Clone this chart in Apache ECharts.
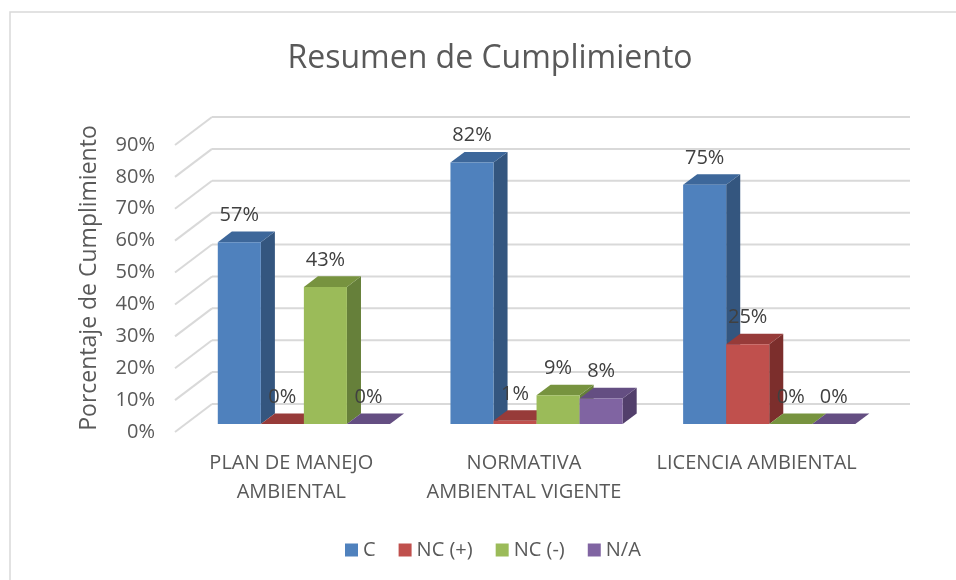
<!DOCTYPE html>
<html>
<head>
<meta charset="utf-8">
<script src="https://cdn.jsdelivr.net/npm/echarts@6/dist/echarts.min.js"></script>
<style>
html,body{margin:0;padding:0;background:#fff;}
#main{width:956px;height:580px;}
</style>
</head>
<body>
<div id="main"></div>
<script>
const categories = ['PLAN DE MANEJO\nAMBIENTAL', 'NORMATIVA\nAMBIENTAL VIGENTE', 'LICENCIA AMBIENTAL'];
const seriesNames = ['C', 'NC (+)', 'NC (-)', 'N/A'];
const valuesC = [0.57, 0.82, 0.75];
const valuesNCplus = [0.00, 0.01, 0.25];
const valuesNCminus = [0.43, 0.09, 0.00];
const valuesNA = [0.00, 0.08, 0.00];
const yTicks = [0, 0.1, 0.2, 0.3, 0.4, 0.5, 0.6, 0.7, 0.8, 0.9];

const FONT = '"Open Sans", "Liberation Sans", sans-serif';
const TXT = '#595959';
const DEPTH = [37, -28];          // back wall offset from front plane
const BAR_F = 0.285, BAR_B = 0.665; // bar front/back depth fractions
const faceColors = [
  {front: '#4f81bd', side: '#34567f', top: '#3d679a'},
  {front: '#c0504d', side: '#7c2e2c', top: '#973b39'},
  {front: '#9bbb59', side: '#66803a', top: '#77933f'},
  {front: '#8064a2', side: '#523f6b', top: '#644e82'}
];
const allValues = [valuesC, valuesNCplus, valuesNCminus, valuesNA];

function wallRender(params, api) {
  const cs = params.coordSys;
  const y = api.coord([0, api.value(1)])[1];
  const xl = cs.x, xr = cs.x + cs.width;
  const st = {stroke: '#d9d9d9', lineWidth: 2};
  return {
    type: 'group',
    children: [
      {type: 'line', shape: {x1: xl, y1: y, x2: xl + DEPTH[0], y2: y + DEPTH[1]}, style: st, z2: 0},
      {type: 'line', shape: {x1: xl + DEPTH[0], y1: y + DEPTH[1], x2: xr + DEPTH[0], y2: y + DEPTH[1]}, style: st, z2: 0}
    ]
  };
}

function makeBarRender(si) {
  return function (params, api) {
    const c = api.value(0), v = api.value(1);
    const base = api.coord([c, 0]);
    const top = api.coord([c, v]);
    const band = api.size([1, 0])[0];
    const bw = band * 0.185;
    const x0 = base[0] - 2 * bw + si * bw + 2;
    const fx = DEPTH[0] * BAR_F, fy = DEPTH[1] * BAR_F;
    const bx = DEPTH[0] * BAR_B, by = DEPTH[1] * BAR_B;
    const col = faceColors[si];
    const yt = top[1], yb = base[1];
    const children = [
      {type: 'polygon', z2: 10 + si * 3, shape: {points: [
        [x0 + bw + fx, yt + fy], [x0 + bw + bx, yt + by], [x0 + bw + bx, yb + by], [x0 + bw + fx, yb + fy]]},
        style: {fill: col.side}},
      {type: 'polygon', z2: 11 + si * 3, shape: {points: [
        [x0 + fx, yt + fy], [x0 + bw + fx, yt + fy], [x0 + bw + bx, yt + by], [x0 + bx, yt + by]]},
        style: {fill: col.top}},
      {type: 'rect', z2: 12 + si * 3, shape: {x: x0 + fx, y: yt + fy, width: bw, height: yb - yt},
        style: {fill: col.front}},
      {type: 'text', z2: 100, style: {
        text: Math.round(v * 100) + '%', x: x0 + fx + bw / 2, y: yt + fy - 27,
        align: 'center', verticalAlign: 'middle', fill: '#404040', font: '20px ' + FONT}}
    ];
    return {type: 'group', children: children};
  };
}

const series = [{
  type: 'custom',
  name: '_walls',
  renderItem: wallRender,
  data: yTicks.map(v => [0, v]),
  encode: {x: 0, y: 1},
  silent: true,
  z: 1
}];
seriesNames.forEach((name, si) => {
  series.push({
    type: 'custom',
    name: name,
    renderItem: makeBarRender(si),
    data: allValues[si].map((v, k) => [k, v]),
    encode: {x: 0, y: 1},
    itemStyle: {color: faceColors[si].front},
    z: 2
  });
});

const chart = echarts.init(document.getElementById('main'), null, {renderer: 'canvas'});
chart.setOption({
  animation: false,
  backgroundColor: '#ffffff',
  graphic: [
    {type: 'rect', shape: {x: 10, y: 12, width: 1000, height: 1000}, style: {fill: null, stroke: '#d9d9d9', lineWidth: 1.5}, silent: true},
    {type: 'text', x: 490, y: 59, style: {text: 'Resumen de Cumplimiento', align: 'center', verticalAlign: 'middle', fill: TXT, font: '32px ' + FONT}},
    {type: 'text', x: 89, y: 278, rotation: Math.PI / 2, style: {text: 'Porcentaje de Cumplimiento', align: 'center', verticalAlign: 'middle', fill: TXT, font: '23px ' + FONT}}
  ],
  grid: {left: 175, right: 83, top: 145, bottom: 148, containLabel: false},
  legend: {
    data: seriesNames,
    left: 345,
    top: 540,
    padding: 0,
    icon: 'rect',
    itemWidth: 13,
    itemHeight: 13,
    itemGap: 23,
    textStyle: {color: TXT, fontSize: 20, fontFamily: FONT}
  },
  xAxis: {
    type: 'category',
    data: categories,
    axisLine: {show: false},
    axisTick: {show: false},
    splitLine: {show: false},
    axisLabel: {color: TXT, fontSize: 20, fontFamily: FONT, lineHeight: 29, margin: 17, interval: 0}
  },
  yAxis: {
    type: 'value',
    min: 0,
    max: 0.9,
    interval: 0.1,
    axisLine: {show: false},
    axisTick: {show: false},
    splitLine: {show: false},
    axisLabel: {color: TXT, fontSize: 20, fontFamily: FONT, margin: 20,
      formatter: v => Math.round(v * 100) + '%'}
  },
  series: series
});
</script>
</body>
</html>
